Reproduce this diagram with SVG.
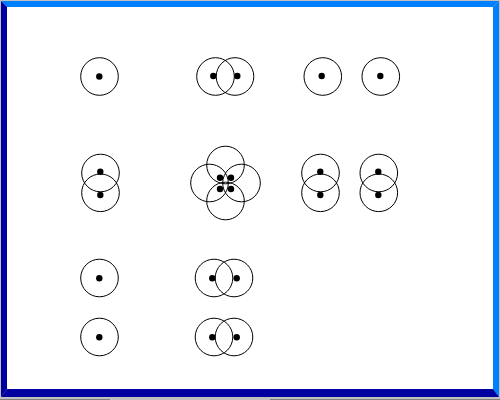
<svg xmlns="http://www.w3.org/2000/svg" width="500" height="400" viewBox="0 0 500 400">
<style>
.c{fill:none;stroke:#000;stroke-width:1}
.d{fill:#000}
</style>
<rect x="0" y="0" width="500" height="400" fill="#c0c0c0"/>
<rect x="0" y="399" width="110" height="1" fill="#808080"/>
<rect x="270" y="399" width="230" height="1" fill="#808080"/>
<polygon points="1,1 499,1 493,7 7,7" fill="#0080ff"/>
<polygon points="499,1 499,397 493,389 493,7" fill="#0080ff"/>
<polygon points="1,1 7,7 7,389 1,397" fill="#0000a0"/>
<polygon points="1,397 7,389 493,389 499,397" fill="#0000a0"/>
<rect x="7" y="7" width="486" height="382" fill="#fff"/>
<g id="n1"><circle class="c" cx="99.5" cy="76.5" r="18.8"/><circle class="d" cx="99.3" cy="76.5" r="3.2"/></g>
<g id="n2"><circle class="c" cx="215.5" cy="76.5" r="18.8"/><circle class="c" cx="235" cy="76.5" r="18.8"/><circle class="d" cx="213.3" cy="76" r="3.2"/><circle class="d" cx="237.3" cy="76" r="3.2"/></g>
<g id="n3"><circle class="c" cx="322.8" cy="76.5" r="18.8"/><circle class="d" cx="321.7" cy="76" r="3.2"/></g>
<g id="n4"><circle class="c" cx="380.8" cy="76.5" r="18.8"/><circle class="d" cx="380.3" cy="76" r="3.2"/></g>
<g id="n5"><circle class="c" cx="100.5" cy="173" r="18.8"/><circle class="c" cx="100.5" cy="192.8" r="18.8"/><circle class="d" cx="100.3" cy="171.7" r="3.2"/><circle class="d" cx="100.3" cy="195" r="3.2"/></g>
<g id="n6"><circle class="c" cx="225.5" cy="165" r="18.8"/><circle class="c" cx="225.5" cy="201" r="18.8"/><circle class="c" cx="209.5" cy="183" r="18.8"/><circle class="c" cx="241.5" cy="183" r="18.8"/><circle class="d" cx="220" cy="177.7" r="3.2"/><circle class="d" cx="231" cy="177.7" r="3.2"/><circle class="d" cx="220" cy="189" r="3.2"/><circle class="d" cx="231" cy="189" r="3.2"/></g>
<g id="n7"><circle class="c" cx="320.5" cy="173" r="18.8"/><circle class="c" cx="320.5" cy="192.8" r="18.8"/><circle class="d" cx="320.3" cy="171.7" r="3.2"/><circle class="d" cx="320.3" cy="195" r="3.2"/></g>
<g id="n8"><circle class="c" cx="378.8" cy="173" r="18.8"/><circle class="c" cx="378.8" cy="192.8" r="18.8"/><circle class="d" cx="378.3" cy="171.7" r="3.2"/><circle class="d" cx="378.3" cy="195" r="3.2"/></g>
<g id="n9"><circle class="c" cx="99.5" cy="278" r="18.8"/><circle class="d" cx="99.3" cy="278.3" r="3.2"/></g>
<g id="n10"><circle class="c" cx="214" cy="278" r="18.8"/><circle class="c" cx="234" cy="278" r="18.8"/><circle class="d" cx="212.3" cy="278.3" r="3.2"/><circle class="d" cx="236.7" cy="278.3" r="3.2"/></g>
<g id="n11"><circle class="c" cx="99.5" cy="337" r="18.8"/><circle class="d" cx="99.3" cy="337.3" r="3.2"/></g>
<g id="n12"><circle class="c" cx="214" cy="337" r="18.8"/><circle class="c" cx="234" cy="337" r="18.8"/><circle class="d" cx="212.3" cy="337.3" r="3.2"/><circle class="d" cx="236.7" cy="337.3" r="3.2"/></g>
<g id="connectors"></g>
</svg>
